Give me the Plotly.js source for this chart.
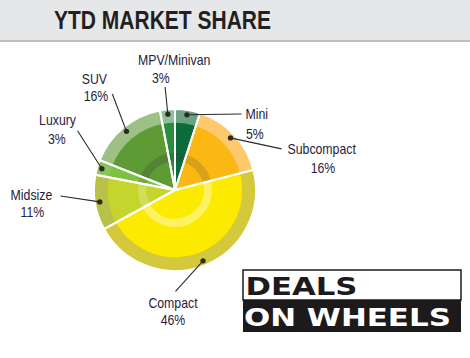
<!DOCTYPE html>
<html><head><meta charset="utf-8">
<script src="https://cdn.plot.ly/plotly-3.0.1.min.js"></script>
<style>html,body{margin:0;padding:0;background:#fff;}#chart{width:470px;height:358px;}</style>
</head><body><div id="chart"></div>
<script>
// ---- data ----
const categories = ["Mini", "Subcompact", "Compact", "Midsize", "Luxury", "SUV", "MPV/Minivan"];
const shares = [5, 16, 46, 11, 3, 16, 3];
const titleText = "YTD MARKET SHARE";
const bannerLines = ["DEALS", "ON WHEELS"];

// ---- styles ----
const sliceColors = ["#0b6b3a", "#fbb713", "#fcea00", "#c6d52e", "#7dc142", "#5e9b34", "#2b8c40"];
const rimColors   = ["#6aa282", "#fdc96a", "#d4c83c", "#b8c248", "#8cc45c", "#9cc086", "#8fc095"];
const ringColors  = ["rgba(60,60,60,0.25)", "rgba(60,60,60,0.18)", "rgba(255,255,255,0.38)",
                     "rgba(255,255,255,0.22)", "rgba(60,60,60,0.18)", "rgba(60,60,60,0.25)", "rgba(60,60,60,0.25)"];
const labelFont = {family: "Liberation Sans, Arial, sans-serif", size: 15, color: "#1f2240"};
const NARROW = 0.82;

// ---- label layout (pixel positions) ----
const namePos = [[257,114],[322,149],[173,302],[31,194],[58,120],[94,79],[174,60]];
const pctPos  = [[255,133],[323,168],[173,319],[32,211],[57,138],[96,95],[161,78]];
const tailPos = [[242,114],[282,149],[175,292],[60,196],[77,130],[112,93],[165,86]];
const bannerPos = [[301.5,285.5],[347.5,316.5]];
const bannerWidths = [112, 207];

const W = 470, H = 358, CX = 175, CY = 190, R = 81, RING = 37;
const px = x => x / W, py = y => 1 - y / H;
const pieDomain = {x: [px(CX - R), px(CX + R)], y: [py(CY + R), py(CY - R)]};
const ringDomain = {x: [px(CX - RING), px(CX + RING)], y: [py(CY + RING), py(CY - RING)]};

// dot positions from slice mid-angles
const total = shares.reduce((a, b) => a + b, 0);
let cum = 0;
const dots = shares.map(v => {
  const mid = (cum + v / 2) / total * 2 * Math.PI;
  cum += v;
  return [CX + 0.94 * R * Math.sin(mid), CY - 0.94 * R * Math.cos(mid)];
});

const base = {type: "pie", labels: categories, values: shares, sort: false, direction: "clockwise",
  rotation: 0, textinfo: "none", showlegend: false, hoverinfo: "skip"};
const traces = [
  Object.assign({}, base, {domain: pieDomain, hoverinfo: "label+percent",
    marker: {colors: sliceColors, line: {width: 0}}}),
  Object.assign({}, base, {domain: pieDomain, hole: 0.83,
    marker: {colors: rimColors, line: {width: 0}}}),
  Object.assign({}, base, {domain: ringDomain, hole: 0.78,
    marker: {colors: ringColors, line: {width: 0}}}),
  Object.assign({}, base, {domain: pieDomain,
    marker: {colors: categories.map(() => "rgba(0,0,0,0)"), line: {color: "#ffffff", width: 2}}})
];

const annotations = [];
categories.forEach((c, i) => {
  const d = dots[i], t = tailPos[i];
  annotations.push({xref: "paper", yref: "paper", x: px(d[0]), y: py(d[1]),
    ax: t[0] - d[0], ay: t[1] - d[1], text: " ", font: {size: 1}, borderpad: 0,
    showarrow: true, arrowhead: 6, arrowsize: 1.2, arrowwidth: 1.1, arrowcolor: "#2a2a2a",
    standoff: 0, startstandoff: 0});
  annotations.push({xref: "paper", yref: "paper", x: px(namePos[i][0]), y: py(namePos[i][1]),
    xanchor: "center", yanchor: "middle", text: c, showarrow: false, font: labelFont});
  annotations.push({xref: "paper", yref: "paper", x: px(pctPos[i][0]), y: py(pctPos[i][1]),
    xanchor: "center", yanchor: "middle", text: shares[i] + "%", showarrow: false, font: labelFont});
});
const bannerFont = {family: "DejaVu Sans, sans-serif", size: 25.5, weight: 700};
const bannerColors = ["#1c1a1b", "#ffffff"];
bannerLines.forEach((b, i) => {
  annotations.push({xref: "paper", yref: "paper", x: px(bannerPos[i][0]), y: py(bannerPos[i][1]),
    xanchor: "center", yanchor: "middle", text: b, showarrow: false,
    font: Object.assign({color: bannerColors[i]}, bannerFont)});
});

const shapes = [
  {type: "rect", xref: "paper", yref: "paper", x0: 0, x1: 1, y0: py(40), y1: 1,
   fillcolor: "#e6e7e8", line: {width: 0}, layer: "below"},
  {type: "line", xref: "paper", yref: "paper", x0: 0, x1: 1, y0: py(41), y1: py(41),
   line: {color: "#a9abae", width: 1.5}, layer: "below"},
  {type: "rect", xref: "paper", yref: "paper", x0: px(243), x1: px(461), y0: py(300), y1: py(270),
   fillcolor: "#ffffff", line: {color: "#1c1a1b", width: 1.5}, layer: "below"},
  {type: "rect", xref: "paper", yref: "paper", x0: px(243), x1: px(461), y0: py(332), y1: py(300),
   fillcolor: "#1c1a1b", line: {width: 0}, layer: "below"}
];

const layout = {
  width: W, height: H, margin: {l: 0, r: 0, t: 0, b: 0},
  paper_bgcolor: "#ffffff", plot_bgcolor: "#ffffff", showlegend: false,
  title: {text: titleText, x: px(162.5), xanchor: "center", y: 1 - 20 / H, yanchor: "middle",
    font: {family: "Liberation Sans, Arial, sans-serif", size: 25, weight: 700, color: "#231f20"}},
  shapes: shapes, annotations: annotations
};

function fit(el, len) {
  el.setAttribute("textLength", len.toFixed(1));
  el.setAttribute("lengthAdjust", "spacingAndGlyphs");
}
Plotly.newPlot("chart", traces, layout, {displayModeBar: false, staticPlot: true}).then(() => {
  // emulate the condensed face of the original lettering
  document.querySelectorAll(".gtitle").forEach(t => fit(t, 217));
  document.querySelectorAll(".annotation-text").forEach(t => {
    const s = t.textContent.trim();
    if (!s) return;
    const bi = bannerLines.indexOf(s);
    if (bi >= 0) fit(t, bannerWidths[bi]);
    else fit(t, t.getComputedTextLength() * NARROW);
  });
});
</script></body></html>
